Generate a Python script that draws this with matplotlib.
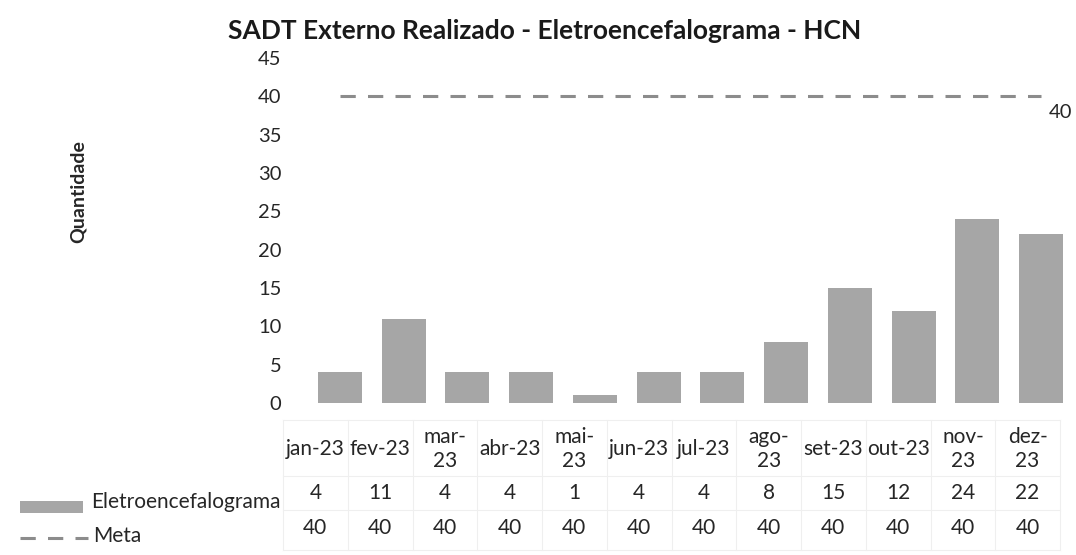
import matplotlib
matplotlib.use('Agg')
import matplotlib.pyplot as plt
from matplotlib.patches import Rectangle
from matplotlib.lines import Line2D

plt.rcParams['font.family'] = ['Lato', 'DejaVu Sans']

# data
months = ['jan-23', 'fev-23', 'mar-\n23', 'abr-23', 'mai-\n23', 'jun-23',
          'jul-23', 'ago-\n23', 'set-23', 'out-23', 'nov-\n23', 'dez-\n23']
realizado = [4, 11, 4, 4, 1, 4, 4, 8, 15, 12, 24, 22]
meta = [40, 40, 40, 40, 40, 40, 40, 40, 40, 40, 40, 40]
series_names = ['Eletroencefalograma', 'Meta']

bar_color = '#a6a6a6'
line_color = '#8c8c8c'
meta_ls = (0, (5, 4))
txt = '#262626'

fig = plt.figure(figsize=(10.76, 5.55), dpi=100)
W, H = 1076, 555

def px_axes(l, t, r, b):
    return fig.add_axes([l / W, 1 - b / H, (r - l) / W, (b - t) / H])

# main chart
ax = px_axes(308, 58, 1073, 403)
x = list(range(len(months)))
ax.bar(x, realizado, width=0.69, color=bar_color, edgecolor='none')
ax.plot(x, meta, color=line_color, lw=2.2, ls=meta_ls)
ax.annotate(str(meta[-1]), (x[-1], meta[-1]), xytext=(14, -12),
            textcoords='offset points', ha='center', va='center',
            fontsize=14.5, color=txt, annotation_clip=False)
ax.set_xlim(-0.5, len(months) - 0.5)
ax.set_ylim(0, 45)
ax.set_yticks(range(0, 50, 5))
ax.tick_params(axis='y', length=0, pad=19, labelsize=14.5, labelcolor=txt)
ax.set_xticks([])
for s in ax.spines.values():
    s.set_visible(False)

fig.text(545 / W, 1 - 31 / H, 'SADT Externo Realizado - Eletroencefalograma - HCN',
         ha='center', va='center', fontsize=19, fontweight='bold', color='#1a1a1a')
fig.text(78 / W, 1 - 192 / H, 'Quantidade', rotation=90, ha='center', va='center',
         fontsize=14, fontweight='bold', color=txt)

# data table below the chart
tab = px_axes(283, 420, 1060, 550)
tab.set_xlim(-0.5, len(months) - 0.5)
tab.set_ylim(130, 0)
tab.axis('off')
grid = '#efefef'
for yy in [0, 56, 90, 130]:
    tab.plot([-0.5, len(months) - 0.5], [yy, yy], color=grid, lw=0.8, clip_on=False)
for i in range(len(months) + 1):
    tab.plot([i - 0.5, i - 0.5], [0, 130], color=grid, lw=0.8, clip_on=False)
for i, m in enumerate(months):
    tab.text(i, 29, m, ha='center', va='center', fontsize=15, color=txt, linespacing=1.2)
    tab.text(i, 73, str(realizado[i]), ha='center', va='center', fontsize=15, color=txt)
    tab.text(i, 108, str(meta[i]), ha='center', va='center', fontsize=15, color=txt)

# row headers with legend keys
fig.patches.append(Rectangle((20 / W, 1 - 513 / H), 63 / W, 12 / H,
                             transform=fig.transFigure, color=bar_color, lw=0))
fig.text(91 / W, 1 - 502 / H, series_names[0], ha='left', va='center',
         fontsize=15, color=txt)
fig.lines.append(Line2D([20 / W, 88 / W], [1 - 538 / H, 1 - 538 / H],
                        transform=fig.transFigure, color=line_color, lw=2.2,
                        ls=meta_ls))
fig.text(93 / W, 1 - 536 / H, series_names[1], ha='left', va='center',
         fontsize=15, color=txt)

fig.savefig('out.png', dpi=100, facecolor='white')
